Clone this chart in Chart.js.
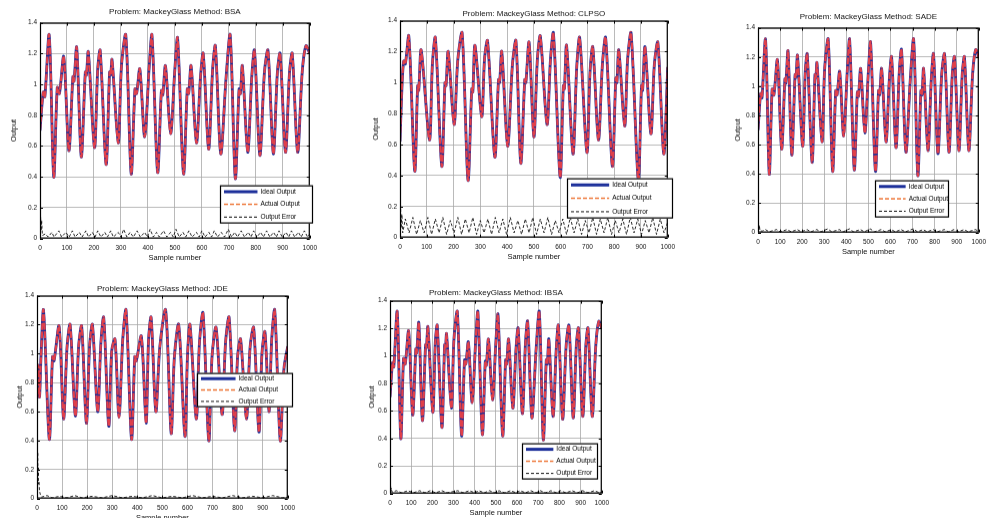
<!DOCTYPE html>
<html>
<head>
<meta charset="utf-8">
<script src="https://cdn.jsdelivr.net/npm/chart.js@4.4.0/dist/chart.umd.min.js"></script>
<style>
body { margin: 0; background: #fff; width: 986px; height: 518px; overflow: hidden; position: relative; }
.panel { position: absolute; }
</style>
</head>
<body>
<div class="panel" id="p1"><canvas id="c1"></canvas></div>
<div class="panel" id="p2"><canvas id="c2"></canvas></div>
<div class="panel" id="p3"><canvas id="c3"></canvas></div>
<div class="panel" id="p4"><canvas id="c4"></canvas></div>
<div class="panel" id="p5"><canvas id="c5"></canvas></div>
<script>
const mg_ideal = [[0,0.70],[12,0.95],[18,0.92],[34,1.32],[51,0.40],[64,0.98],[72,0.94],[88,1.18],
    [107,0.57],[122,1.05],[126,1.02],[136,1.24],[153,0.53],[168,1.08],[172,1.06],[179,1.21],
    [202,0.59],[214,1.10],[223,1.22],[245,0.48],[258,1.08],[262,1.06],[267,1.16],[290,0.62],
    [302,1.12],[318,1.32],[338,0.42],[352,0.97],[358,0.94],[370,1.10],[388,0.66],[405,1.12],
    [415,1.32],[436,0.43],[450,0.96],[455,0.93],[465,1.12],[484,0.68],[500,1.10],[510,1.30],
    [532,0.42],[546,0.97],[551,0.94],[560,1.12],[580,0.62],[595,1.05],[605,1.20],[625,0.58],
    [640,1.10],[650,1.25],[670,0.55],[690,1.05],[705,1.32],[724,0.39],[738,0.97],[743,0.94],
    [750,1.12],[770,0.56],[785,1.05],[795,1.22],[815,0.54],[832,1.08],[845,1.22],[865,0.55],
    [880,1.08],[890,1.20],[910,0.56],[925,1.08],[935,1.20],[955,0.56],[972,1.08],[986,1.25],[1000,1.20]];

const clpso_ideal = [[0,0.62],[8,1.00],[14,1.14],[20,1.12],[33,1.30],[55,0.43],[66,0.98],[70,0.95],
    [79,1.21],[110,0.63],[121,1.12],[132,1.29],[156,0.46],[168,1.00],[172,0.98],[180,1.20],
    [202,0.73],[216,1.15],[232,1.32],[254,0.37],[268,0.96],[272,0.94],[280,1.24],[305,0.78],
    [316,1.16],[327,1.27],[354,0.52],[368,1.02],[372,1.00],[380,1.20],[402,0.59],[420,1.12],
    [433,1.27],[451,0.48],[466,1.02],[470,1.00],[482,1.26],[500,0.65],[513,1.15],[524,1.30],
    [549,0.73],[562,1.15],[573,1.32],[598,0.39],[610,0.98],[614,0.96],[622,1.24],[646,0.54],
    [660,1.10],[671,1.29],[698,0.55],[710,1.08],[720,1.23],[741,0.63],[756,1.12],[768,1.29],
    [793,0.46],[806,1.03],[810,1.00],[817,1.21],[839,0.72],[850,1.15],[863,1.32],[890,0.37],
    [902,0.98],[906,0.95],[915,1.23],[937,0.67],[950,1.12],[963,1.26],[985,0.54],[1000,1.10]];

const jde_ideal = [[0,0.72],[5,0.92],[10,0.70],[16,0.98],[26,1.30],[49,0.41],[62,0.98],[68,0.95],
    [88,1.19],[106,0.55],[120,1.05],[132,1.20],[153,0.57],[166,1.05],[178,1.19],[197,0.52],
    [210,1.06],[221,1.20],[242,0.60],[255,1.08],[266,1.25],[286,0.50],[298,1.02],[311,1.10],
    [327,0.56],[342,1.10],[355,1.30],[377,0.41],[390,0.98],[396,0.95],[416,1.12],[435,0.52],
    [445,1.10],[455,1.25],[474,0.60],[490,1.05],[513,1.30],[535,0.45],[548,0.98],[565,1.20],
    [590,0.43],[600,0.98],[610,1.20],[635,0.55],[648,1.08],[662,1.28],[685,0.40],[698,0.98],
    [714,1.18],[738,0.58],[752,1.08],[766,1.25],[788,0.47],[800,0.98],[812,1.10],[835,0.55],
    [850,1.05],[864,1.18],[885,0.46],[897,1.00],[909,1.15],[925,0.60],[936,1.10],[948,1.30],
    [970,0.40],[985,0.90],[1000,1.05]];

const bsa_error = [[0,0.03],[2,0.15],[4,0.05],[6,0.12],[9,0.02],[20,0.03],[30,0.01],[44,0.04],
    [52,0.01],[70,0.05],[80,0.01],[96,0.04],[108,0.01],[120,0.05],[130,0.01],[146,0.04],
    [156,0.01],[170,0.05],[180,0.01],[194,0.04],[204,0.01],[214,0.05],[226,0.01],[240,0.04],
    [250,0.01],[262,0.05],[272,0.01],[290,0.04],[300,0.01],[310,0.06],[322,0.01],[334,0.04],
    [346,0.01],[360,0.05],[372,0.01],[388,0.04],[398,0.01],[408,0.06],[420,0.01],[432,0.04],
    [442,0.01],[458,0.05],[470,0.01],[484,0.04],[494,0.01],[504,0.06],[516,0.01],[530,0.04],
    [540,0.01],[552,0.05],[564,0.01],[580,0.04],[590,0.01],[600,0.05],[612,0.01],[626,0.04],
    [636,0.01],[646,0.05],[658,0.01],[672,0.04],[684,0.01],[698,0.06],[710,0.01],[722,0.04],
    [732,0.01],[746,0.05],[758,0.01],[772,0.04],[782,0.01],[792,0.05],[804,0.01],[818,0.04],
    [828,0.01],[840,0.05],[852,0.01],[866,0.04],[876,0.01],[886,0.05],[898,0.01],[912,0.04],
    [922,0.01],[932,0.05],[944,0.01],[958,0.04],[968,0.01],[980,0.05],[992,0.01],[1000,0.03]];

const clpso_error = [[0,0.04],[2,0.21],[4,0.06],[7,0.15],[10,0.03],[20,0.12],[34,0.03],[48,0.13],
    [62,0.02],[76,0.11],[90,0.03],[104,0.13],[118,0.02],[132,0.12],[146,0.03],[160,0.13],
    [174,0.02],[188,0.11],[202,0.03],[216,0.13],[230,0.02],[244,0.12],[258,0.03],[272,0.13],
    [286,0.02],[300,0.11],[314,0.03],[328,0.12],[342,0.02],[356,0.13],[370,0.03],[384,0.12],
    [398,0.02],[412,0.13],[426,0.03],[440,0.11],[454,0.02],[468,0.12],[482,0.03],[496,0.13],
    [510,0.02],[524,0.12],[538,0.03],[552,0.13],[566,0.02],[580,0.11],[594,0.03],[608,0.12],
    [622,0.02],[636,0.13],[650,0.03],[664,0.12],[678,0.02],[692,0.11],[706,0.03],[720,0.13],
    [734,0.02],[748,0.12],[762,0.03],[776,0.13],[790,0.02],[804,0.11],[818,0.03],[832,0.12],
    [846,0.02],[860,0.13],[874,0.03],[888,0.12],[902,0.02],[916,0.11],[930,0.03],[944,0.13],
    [958,0.02],[972,0.12],[986,0.03],[1000,0.10]];

const sade_error = [[0,0.01],[2,0.08],[4,0.02],[6,0.05],[9,0.01],[20,0.01],[34,0.02],[50,0.005],
    [84,0.02],[100,0.005],[132,0.02],[150,0.005],[178,0.02],[196,0.005],[222,0.02],[240,0.005],
    [266,0.02],[285,0.005],[316,0.025],[334,0.005],[368,0.02],[386,0.005],[414,0.025],[432,0.005],
    [464,0.02],[482,0.005],[508,0.025],[528,0.005],[558,0.02],[576,0.005],[604,0.02],[622,0.005],
    [648,0.02],[668,0.005],[704,0.025],[722,0.005],[748,0.02],[766,0.005],[794,0.02],[812,0.005],
    [844,0.02],[862,0.005],[888,0.02],[906,0.005],[934,0.02],[952,0.005],[984,0.02],[1000,0.01]];

const jde_error = [[0,0.05],[1,0.35],[2,0.28],[3,0.32],[4,0.15],[5,0.22],[6,0.10],[8,0.12],
    [10,0.05],[13,0.03],[18,0.01],[40,0.02],[60,0.005],[90,0.015],[120,0.005],[150,0.02],
    [180,0.005],[220,0.015],[260,0.005],[300,0.02],[340,0.005],[380,0.015],[420,0.005],
    [460,0.02],[500,0.005],[540,0.015],[580,0.005],[620,0.02],[660,0.005],[700,0.015],
    [740,0.005],[780,0.02],[820,0.005],[860,0.015],[900,0.005],[940,0.02],[980,0.005],[1000,0.01]];

const ibsa_error = [[0,0.01],[2,0.07],[4,0.02],[6,0.04],[9,0.01],[30,0.02],[55,0.005],[85,0.02],
    [110,0.005],[140,0.02],[165,0.005],[190,0.02],[215,0.005],[245,0.02],[270,0.005],[320,0.02],
    [345,0.005],[375,0.02],[400,0.005],[420,0.02],[445,0.005],[470,0.02],[495,0.005],[515,0.02],
    [540,0.005],[570,0.02],[595,0.005],[615,0.02],[640,0.005],[665,0.02],[690,0.005],[710,0.02],
    [735,0.005],[760,0.02],[785,0.005],[805,0.02],[830,0.005],[860,0.02],[885,0.005],[910,0.02],
    [935,0.005],[965,0.02],[990,0.005],[1000,0.01]];

const legend_labels = ['Ideal Output', 'Actual Output', 'Output Error'];

const panels = [
    { div: 'p1', canvas: 'c1', title: 'Problem: MackeyGlass Method: BSA',
      ideal: mg_ideal, actual: mg_ideal, error: bsa_error,
      plot: [40, 23, 315, 238], title_gap: 6, y_w: 35, legend: [220, 185, 93, 38] },
    { div: 'p2', canvas: 'c2', title: 'Problem: MackeyGlass Method: CLPSO',
      ideal: clpso_ideal, actual: clpso_ideal, error: clpso_error,
      plot: [400, 21, 673, 237], title_gap: 2, y_w: 33, legend: [567, 178, 106, 40] },
    { div: 'p3', canvas: 'c3', title: 'Problem: MackeyGlass Method: SADE',
      ideal: mg_ideal, actual: mg_ideal, error: sade_error,
      plot: [758, 28, 984, 232], title_gap: 6, y_w: 29, legend: [875, 180, 74, 37] },
    { div: 'p4', canvas: 'c4', title: 'Problem: MackeyGlass Method: JDE',
      ideal: jde_ideal, actual: jde_ideal, error: jde_error,
      plot: [37, 296, 293, 498], title_gap: 2, y_w: 26, legend: [197, 373, 96, 34] },
    { div: 'p5', canvas: 'c5', title: 'Problem: MackeyGlass Method: IBSA',
      ideal: mg_ideal, actual: mg_ideal, error: ibsa_error,
      plot: [390, 301, 607, 493], title_gap: 3, y_w: 27, legend: [522, 443, 76, 36] },
];

const FONT = "'Liberation Sans', Arial, sans-serif";
const X_H = 28;
const PAD_R = 8;
const TITLE_SIZE = 8;
const IDEAL_COLOR = '#1c2f9a';
const ACTUAL_COLOR = '#e0404a';

const to_points = pairs => pairs.map(p => ({ x: p[0], y: p[1] }));

const frame_plugin = {
    id: 'frame',
    afterDatasetsDraw(chart, args, opts) {
        const { ctx, chartArea: a, scales } = chart;
        ctx.save();
        // inner tick marks, matlab style
        ctx.strokeStyle = '#000';
        ctx.lineWidth = 1;
        ctx.beginPath();
        for (const t of scales.x.ticks) {
            const px = Math.round(scales.x.getPixelForValue(t.value)) + 0.5;
            ctx.moveTo(px, a.bottom); ctx.lineTo(px, a.bottom - 3);
            ctx.moveTo(px, a.top); ctx.lineTo(px, a.top + 3);
        }
        for (const t of scales.y.ticks) {
            const py = Math.round(scales.y.getPixelForValue(t.value)) + 0.5;
            ctx.moveTo(a.left, py); ctx.lineTo(a.left + 3, py);
            ctx.moveTo(a.right, py); ctx.lineTo(a.right - 3, py);
        }
        ctx.stroke();
        ctx.lineWidth = 1.2;
        ctx.strokeRect(a.left + 0.5, a.top + 0.5, a.width - 1, a.height - 1);

        // legend box
        const [x, y, w, h] = opts.box;
        ctx.fillStyle = '#fff';
        ctx.fillRect(x, y, w, h);
        ctx.strokeStyle = '#000';
        ctx.lineWidth = 1.2;
        ctx.strokeRect(x + 0.5, y + 0.5, w - 1, h - 1);
        const styles = [
            { color: IDEAL_COLOR, width: 3, dash: [] },
            { color: '#ee7a3c', width: 1.5, dash: [4, 2] },
            { color: '#111', width: 1, dash: [3, 2] },
        ];
        const row_h = h / 3;
        const line_len = w * 0.36;
        ctx.font = `6.5px ${FONT}`;
        ctx.textBaseline = 'middle';
        ctx.textAlign = 'left';
        for (let i = 0; i < 3; ++i) {
            const cy = y + row_h * (i + 0.5);
            ctx.strokeStyle = styles[i].color;
            ctx.lineWidth = styles[i].width;
            ctx.setLineDash(styles[i].dash);
            ctx.beginPath();
            ctx.moveTo(x + 4, cy);
            ctx.lineTo(x + 4 + line_len, cy);
            ctx.stroke();
            ctx.setLineDash([]);
            ctx.fillStyle = '#000';
            ctx.fillText(legend_labels[i], x + 7 + line_len, cy);
        }
        ctx.restore();
    }
};

function make_panel(p) {
    const [L, T, R, B] = p.plot;
    const title_h = TITLE_SIZE * 1.2 + p.title_gap;
    const left = L - p.y_w;
    const top = T - title_h;
    const div = document.getElementById(p.div);
    div.style.left = left + 'px';
    div.style.top = top + 'px';
    div.style.width = (R + PAD_R - left) + 'px';
    div.style.height = (B + X_H - top) + 'px';

    const [lx, ly, lw, lh] = p.legend;

    new Chart(document.getElementById(p.canvas), {
        type: 'line',
        data: {
            datasets: [
                {
                    label: legend_labels[0],
                    data: to_points(p.ideal),
                    borderColor: IDEAL_COLOR,
                    borderWidth: 2.8,
                    tension: 0.3,
                    order: 2,
                },
                {
                    label: legend_labels[1],
                    data: to_points(p.actual),
                    borderColor: ACTUAL_COLOR,
                    borderWidth: 2.2,
                    borderDash: [7, 1.5],
                    tension: 0.3,
                    order: 1,
                },
                {
                    label: legend_labels[2],
                    data: to_points(p.error),
                    borderColor: '#111',
                    borderWidth: 0.9,
                    borderDash: [3, 2],
                    tension: 0,
                    order: 0,
                },
            ]
        },
        options: {
            responsive: true,
            maintainAspectRatio: false,
            animation: false,
            devicePixelRatio: 1,
            layout: { padding: { left: 0, top: 0, bottom: 0, right: PAD_R } },
            elements: { point: { radius: 0 } },
            plugins: {
                legend: { display: false },
                tooltip: { enabled: false },
                title: {
                    display: true,
                    text: p.title,
                    fullSize: false,
                    color: '#111',
                    font: { family: FONT, size: TITLE_SIZE, weight: 'normal' },
                    padding: { top: 0, bottom: p.title_gap },
                },
                frame: { box: [lx - left, ly - top, lw, lh] },
            },
            scales: {
                x: {
                    type: 'linear',
                    min: 0,
                    max: 1000,
                    afterFit: s => { s.height = X_H; },
                    grid: { color: '#a8a8a8', lineWidth: 0.8, drawTicks: false },
                    border: { display: false },
                    ticks: {
                        stepSize: 100,
                        autoSkip: false,
                        maxRotation: 0,
                        padding: 6,
                        color: '#111',
                        font: { family: FONT, size: 6.5 },
                        callback: v => String(v),
                    },
                    title: {
                        display: true,
                        text: 'Sample number',
                        color: '#111',
                        font: { family: FONT, size: 7.5 },
                    },
                },
                y: {
                    min: 0,
                    max: 1.4,
                    afterFit: s => { s.width = p.y_w; },
                    grid: { color: '#a8a8a8', lineWidth: 0.8, drawTicks: false },
                    border: { display: false },
                    ticks: {
                        stepSize: 0.2,
                        padding: 3,
                        color: '#111',
                        font: { family: FONT, size: 6.5 },
                        callback: v => String(+v.toFixed(1)),
                    },
                    title: {
                        display: true,
                        text: 'Output',
                        color: '#111',
                        font: { family: FONT, size: 7.5 },
                    },
                },
            }
        },
        plugins: [frame_plugin]
    });
}

for (const p of panels) {
    make_panel(p);
}
</script>
</body>
</html>
